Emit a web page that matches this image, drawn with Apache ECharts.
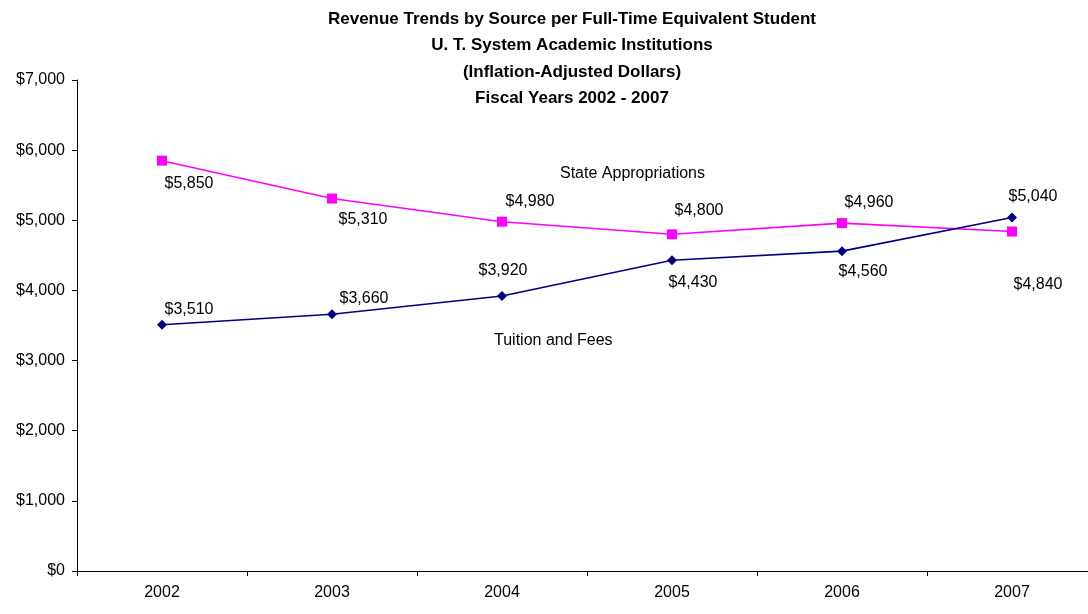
<!DOCTYPE html>
<html>
<head>
<meta charset="utf-8">
<script src="https://cdn.jsdelivr.net/npm/echarts@6/dist/echarts.min.js"></script>
<style>
  html, body { margin: 0; padding: 0; background: #fff; }
  #chart { width: 1088px; height: 614px; }
</style>
</head>
<body>
<div id="chart"></div>
<script>
// data
const years = ['2002', '2003', '2004', '2005', '2006', '2007'];
const stateAppropriations = [5850, 5310, 4980, 4800, 4960, 4840];
const tuitionAndFees = [3510, 3660, 3920, 4430, 4560, 5040];

// label placement (dx, dy from the point)
const stateLabelOffsets = [[27, 23], [31, 21], [28, -20], [27, -24], [27, -20], [26, 53]];
const tuitionLabelOffsets = [[27, -15], [32, -16], [1, -25], [21, 22], [21, 20], [21, -21]];

const FONT = '"Liberation Sans Narrow", "Arial Narrow", "Liberation Sans", Arial, sans-serif';

const money = v => '$' + v.toLocaleString('en-US');

function withLabels(values, offsets) {
  return values.map((v, i) => ({
    value: v,
    label: { offset: offsets[i] }
  }));
}

const chart = echarts.init(document.getElementById('chart'));

chart.setOption({
  backgroundColor: '#fff',
  animation: false,
  title: {
    text: 'Revenue Trends by Source per Full-Time Equivalent Student\nU. T. System Academic Institutions\n(Inflation-Adjusted Dollars)\nFiscal Years 2002 - 2007',
    left: 567,
    top: 1,
    textAlign: 'center',
    textStyle: {
      fontFamily: FONT,
      fontSize: 17,
      fontWeight: 'bold',
      color: '#000',
      lineHeight: 26.5
    }
  },
  // the category band runs a little past the right edge of the canvas
  grid: { left: 77, width: 1020, top: 80, height: 491, outerBoundsMode: 'none' },
  xAxis: {
    type: 'category',
    data: years,
    boundaryGap: true,
    axisLine: { lineStyle: { color: '#000', width: 1 } },
    axisTick: { show: true, length: 5, lineStyle: { color: '#000' } },
    axisLabel: { fontFamily: FONT, fontSize: 16, color: '#000', margin: 14 }
  },
  yAxis: {
    type: 'value',
    min: 0,
    max: 7000,
    interval: 1000,
    splitLine: { show: false },
    axisLine: { show: true, lineStyle: { color: '#000', width: 1 } },
    axisTick: { show: true, length: 5, lineStyle: { color: '#000' } },
    axisLabel: {
      fontFamily: FONT, fontSize: 16, color: '#000', margin: 12,
      formatter: v => money(v)
    }
  },
  graphic: [
    {
      type: 'text', left: 560, top: 166,
      style: { text: 'State Appropriations', font: '16px ' + FONT, fill: '#000' }
    },
    {
      type: 'text', left: 494, top: 333,
      style: { text: 'Tuition and Fees', font: '16px ' + FONT, fill: '#000' }
    }
  ],
  series: [
    {
      name: 'State Appropriations',
      type: 'line',
      data: withLabels(stateAppropriations, stateLabelOffsets),
      symbol: 'rect',
      symbolSize: 10,
      itemStyle: { color: '#ff00ff' },
      lineStyle: { color: '#ff00ff', width: 1.6 },
      label: {
        show: true, position: 'inside',
        fontFamily: FONT, fontSize: 16, color: '#000',
        formatter: p => money(p.value)
      }
    },
    {
      name: 'Tuition and Fees',
      type: 'line',
      data: withLabels(tuitionAndFees, tuitionLabelOffsets),
      symbol: 'diamond',
      symbolSize: 10,
      itemStyle: { color: '#000080' },
      lineStyle: { color: '#000080', width: 1.6 },
      label: {
        show: true, position: 'inside',
        fontFamily: FONT, fontSize: 16, color: '#000',
        formatter: p => money(p.value)
      }
    }
  ]
});
</script>
</body>
</html>
